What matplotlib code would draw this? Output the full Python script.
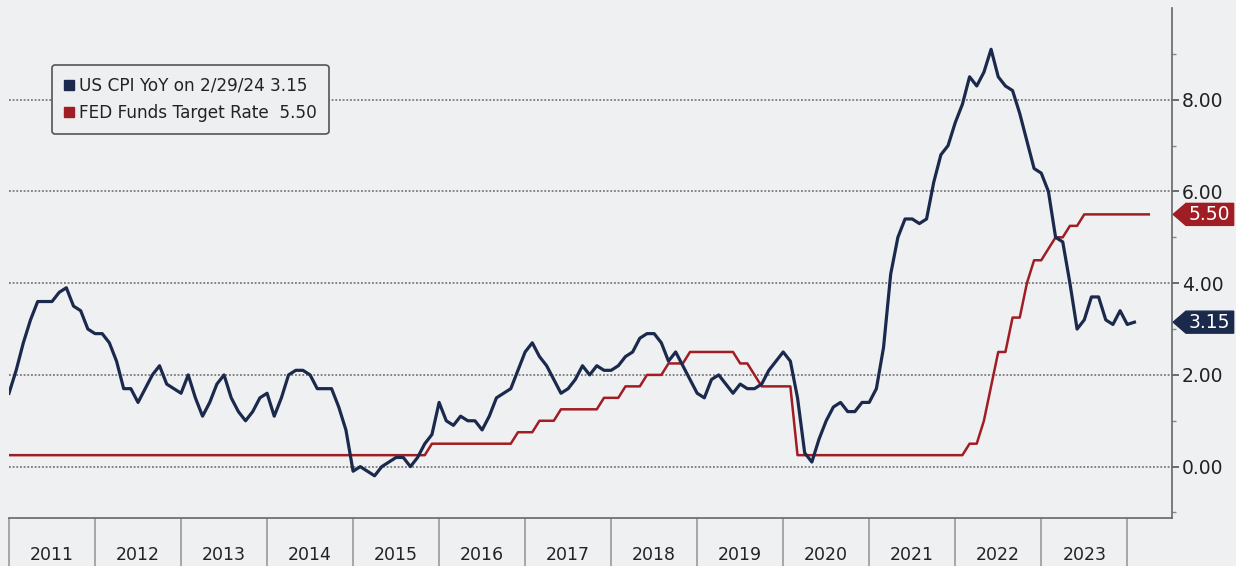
import matplotlib.pyplot as plt
import matplotlib.transforms as mtransforms
from matplotlib.lines import Line2D
from matplotlib.patches import Polygon

# US CPI YoY, monthly, Jan 2011 - Feb 2024
cpi = [
    1.6, 2.1, 2.7, 3.2, 3.6, 3.6, 3.6, 3.8, 3.9, 3.5, 3.4, 3.0,   # 2011
    2.9, 2.9, 2.7, 2.3, 1.7, 1.7, 1.4, 1.7, 2.0, 2.2, 1.8, 1.7,   # 2012
    1.6, 2.0, 1.5, 1.1, 1.4, 1.8, 2.0, 1.5, 1.2, 1.0, 1.2, 1.5,   # 2013
    1.6, 1.1, 1.5, 2.0, 2.1, 2.1, 2.0, 1.7, 1.7, 1.7, 1.3, 0.8,   # 2014
    -0.1, 0.0, -0.1, -0.2, 0.0, 0.1, 0.2, 0.2, 0.0, 0.2, 0.5, 0.7,  # 2015
    1.4, 1.0, 0.9, 1.1, 1.0, 1.0, 0.8, 1.1, 1.5, 1.6, 1.7, 2.1,   # 2016
    2.5, 2.7, 2.4, 2.2, 1.9, 1.6, 1.7, 1.9, 2.2, 2.0, 2.2, 2.1,   # 2017
    2.1, 2.2, 2.4, 2.5, 2.8, 2.9, 2.9, 2.7, 2.3, 2.5, 2.2, 1.9,   # 2018
    1.6, 1.5, 1.9, 2.0, 1.8, 1.6, 1.8, 1.7, 1.7, 1.8, 2.1, 2.3,   # 2019
    2.5, 2.3, 1.5, 0.3, 0.1, 0.6, 1.0, 1.3, 1.4, 1.2, 1.2, 1.4,   # 2020
    1.4, 1.7, 2.6, 4.2, 5.0, 5.4, 5.4, 5.3, 5.4, 6.2, 6.8, 7.0,   # 2021
    7.5, 7.9, 8.5, 8.3, 8.6, 9.1, 8.5, 8.3, 8.2, 7.7, 7.1, 6.5,   # 2022
    6.4, 6.0, 5.0, 4.9, 4.0, 3.0, 3.2, 3.7, 3.7, 3.2, 3.1, 3.4,   # 2023
    3.1, 3.15,                                                    # 2024
]

# Fed funds target rate (upper bound), monthly, Jan 2011 - Apr 2024
fed = (
    [0.25] * 48                                                   # 2011-2014
    + [0.25] * 11 + [0.5]                                         # 2015
    + [0.5] * 11 + [0.75]                                         # 2016
    + [0.75, 0.75, 1.0, 1.0, 1.0, 1.25, 1.25, 1.25, 1.25, 1.25, 1.25, 1.5]
    + [1.5, 1.5, 1.75, 1.75, 1.75, 2.0, 2.0, 2.0, 2.25, 2.25, 2.25, 2.5]
    + [2.5, 2.5, 2.5, 2.5, 2.5, 2.5, 2.25, 2.25, 2.0, 1.75, 1.75, 1.75]
    + [1.75, 1.75] + [0.25] * 10                                  # 2020
    + [0.25] * 12                                                 # 2021
    + [0.25, 0.25, 0.5, 0.5, 1.0, 1.75, 2.5, 2.5, 3.25, 3.25, 4.0, 4.5]
    + [4.5, 4.75, 5.0, 5.0, 5.25, 5.25, 5.5, 5.5, 5.5, 5.5, 5.5, 5.5]
    + [5.5, 5.5, 5.5, 5.5]                                        # 2024
)

years = list(range(2011, 2024))
yticks = [0, 2, 4, 6, 8]

cpi_x = [2011 + i / 12 for i in range(len(cpi))]
fed_x = [2011 + i / 12 for i in range(len(fed))]

bg = '#eff0f2'
navy = '#1b2a4c'
red = '#a11d24'

fig = plt.figure(figsize=(12.36, 5.66), dpi=100, facecolor=bg)
ax = fig.add_axes([9 / 1236, 1 - 518 / 566, (1172 - 9) / 1236, (518 - 8) / 566])
ax.set_facecolor(bg)

ax.plot(fed_x, fed, color=red, lw=1.8, zorder=3)
ax.plot(cpi_x, cpi, color=navy, lw=2.3, zorder=4)

ax.set_xlim(2011, 2024.52)
ax.set_ylim(-1.12, 10)

# y axis on the right
ax.yaxis.tick_right()
ax.set_yticks(yticks)
ax.set_yticklabels([f'{v:.2f}' for v in yticks])
ax.set_yticks([-1, 1, 3, 5, 7, 9], minor=True)
ax.tick_params(axis='y', which='major', direction='out', length=5, width=1.2,
               color='#555555', labelsize=13.5, labelcolor='#222222', pad=2)
ax.tick_params(axis='y', which='minor', direction='out', length=3, width=1,
               color='#888888')
for v in yticks:
    ax.axhline(v, color='#666666', lw=1.1, ls=(0, (1.2, 1.2)), zorder=1)

# x axis: separators at year boundaries, labels mid-year
ax.set_xticks(years + [2024])
ax.set_xticklabels([])
ax.set_xticks([y + 0.5 for y in years], minor=True)
ax.set_xticklabels([str(y) for y in years], minor=True)
ax.tick_params(axis='x', which='major', direction='out', length=40, width=1.2,
               color='#999999')
ax.tick_params(axis='x', which='minor', length=0, labelsize=12.5,
               labelcolor='#222222', pad=20)

for s in ['left', 'top']:
    ax.spines[s].set_visible(False)
for s in ['right', 'bottom']:
    ax.spines[s].set_color('#666666')
    ax.spines[s].set_linewidth(1.2)

# value tags on the right axis
trans = mtransforms.blended_transform_factory(ax.transAxes, ax.transData)
for val, col in [(fed[-1], red), (cpi[-1], navy)]:
    h = 0.24
    tag = Polygon([(1.001, val), (1.012, val + h), (1.053, val + h),
                   (1.053, val - h), (1.012, val - h)], closed=True,
                  transform=trans, facecolor=col, edgecolor=col,
                  clip_on=False, zorder=5)
    ax.add_patch(tag)
    ax.text(1.0325, val, f'{val:.2f}', transform=trans, color='white',
            fontsize=13.5, ha='center', va='center', clip_on=False, zorder=6)

handles = [
    Line2D([], [], ls='none', marker='s', markersize=7, color=navy),
    Line2D([], [], ls='none', marker='s', markersize=7, color=red),
]
labels = ['US CPI YoY on 2/29/24 3.15', 'FED Funds Target Rate  5.50']
leg = fig.legend(handles, labels, loc='upper left',
                 bbox_to_anchor=(52 / 1236, 1 - 65 / 566), borderaxespad=0,
                 fontsize=12.2, handlelength=0.6, handletextpad=0.3,
                 labelspacing=0.55, borderpad=0.7, frameon=True,
                 fancybox=True)
leg.get_frame().set_facecolor('#eeeff1')
leg.get_frame().set_edgecolor('#555555')
leg.get_frame().set_linewidth(1.2)
leg.get_frame().set_alpha(1)
for t in leg.get_texts():
    t.set_color('#222222')

fig.savefig('out.png', dpi=100, facecolor=bg)
